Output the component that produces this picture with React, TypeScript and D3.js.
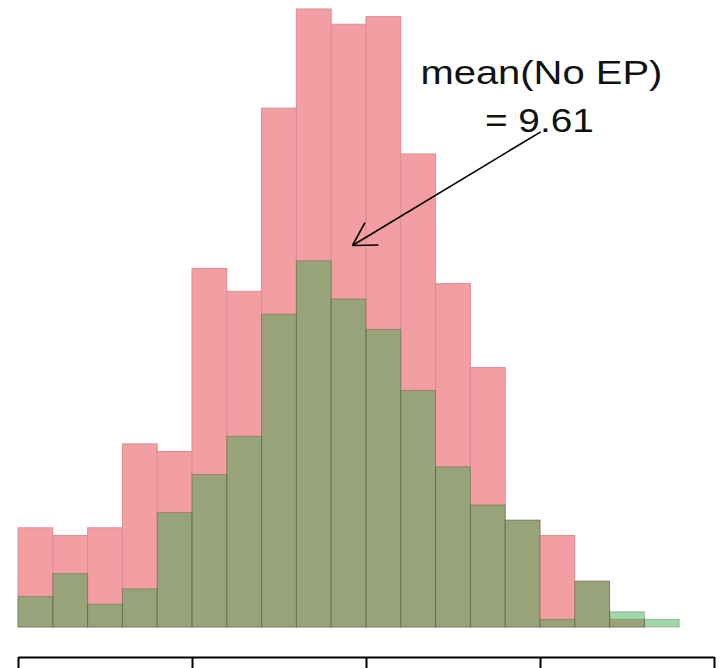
import React, { useEffect, useRef } from 'react';
import * as d3 from 'd3';

// histogram bins (unit width, starting at 0)
const binStarts = [0, 1, 2, 3, 4, 5, 6, 7, 8, 9, 10, 11, 12, 13, 14, 15, 16, 17, 18];
const noEpCounts = [13, 12, 13, 24, 23, 47, 44, 68, 81, 79, 80, 62, 45, 34, 14, 12, 6, 1, 0];
const epCounts = [4, 7, 3, 5, 15, 20, 25, 41, 48, 43, 39, 31, 21, 16, 14, 1, 6, 2, 1];
const xTicks = [0, 5, 10, 15, 20];

const meanNoEp = 9.61;
const labelLines = ['mean(No EP)', '= 9.61'];

const App = () => {
  const svgRef = useRef<SVGSVGElement>(null);

  useEffect(() => {
    const svg = d3.select(svgRef.current);
    svg.selectAll('*').remove();

    const baseY = 627;
    const axisY = 657;

    const x = d3.scaleLinear().domain([0, 20]).range([18, 714]);
    const y = d3.scaleLinear().domain([0, 82]).range([baseY, baseY - 82 * 7.63]);

    // No EP histogram (pink)
    svg.append('g')
      .selectAll('rect')
      .data(binStarts.filter((d, i) => noEpCounts[i] > 0))
      .join('rect')
      .attr('x', d => x(d))
      .attr('width', d => x(d + 1) - x(d))
      .attr('y', d => y(noEpCounts[binStarts.indexOf(d)]))
      .attr('height', d => baseY - y(noEpCounts[binStarts.indexOf(d)]))
      .attr('fill', '#f29ea3')
      .attr('stroke', '#dc8e94')
      .attr('stroke-width', 1);

    // EP histogram (transparent green on top)
    svg.append('g')
      .selectAll('rect')
      .data(binStarts)
      .join('rect')
      .attr('x', d => x(d))
      .attr('width', d => x(d + 1) - x(d))
      .attr('y', (d, i) => y(epCounts[i]))
      .attr('height', (d, i) => baseY - y(epCounts[i]))
      .attr('fill', 'rgb(53,170,74)')
      .attr('fill-opacity', 0.47)
      .attr('stroke', 'rgba(45,75,30,0.3)')
      .attr('stroke-width', 1);

    // x axis, labels fall outside the picture
    const axis = svg.append('g')
      .attr('transform', `translate(0,${axisY})`)
      .call(d3.axisBottom(x)
        .tickValues(xTicks)
        .tickSize(16)
        .tickSizeOuter(0)
        .tickFormat(() => '')
      );
    axis.selectAll('path, line')
      .attr('stroke', '#000')
      .attr('stroke-width', 2);

    // arrow to the mean
    const tip = [x(meanNoEp), y(50)];
    const tail = [x(15.02), y(64.9)];
    svg.append('line')
      .attr('x1', tail[0]).attr('y1', tail[1])
      .attr('x2', tip[0]).attr('y2', tip[1])
      .attr('stroke', '#000')
      .attr('stroke-width', 1.6);

    const ang = Math.atan2(tail[1] - tip[1], tail[0] - tip[0]);
    const armLen = 26;
    [ang - Math.PI / 6, ang + Math.PI / 6].forEach(a => {
      svg.append('line')
        .attr('x1', tip[0]).attr('y1', tip[1])
        .attr('x2', tip[0] + armLen * Math.cos(a))
        .attr('y2', tip[1] + armLen * Math.sin(a))
        .attr('stroke', '#000')
        .attr('stroke-width', 1.6);
    });

    // label
    const labelX = x(15.04);
    svg.append('text')
      .attr('x', labelX)
      .attr('y', 84)
      .attr('text-anchor', 'middle')
      .attr('font-family', 'Liberation Sans, Arial, sans-serif')
      .attr('font-size', 34)
      .attr('textLength', 242)
      .attr('lengthAdjust', 'spacingAndGlyphs')
      .attr('fill', '#111')
      .text(labelLines[0]);

    svg.append('text')
      .attr('x', labelX - 2)
      .attr('y', 132)
      .attr('text-anchor', 'middle')
      .attr('font-family', 'Liberation Sans, Arial, sans-serif')
      .attr('font-size', 34)
      .attr('textLength', 109)
      .attr('lengthAdjust', 'spacingAndGlyphs')
      .attr('fill', '#111')
      .text(labelLines[1]);
  }, []);

  return (
    <div style={{ position: 'fixed', left: 0, top: 0 }}>
      <svg ref={svgRef} width="720" height="668" style={{ display: 'block', background: '#fff' }}></svg>
    </div>
  );
};

export default App;
